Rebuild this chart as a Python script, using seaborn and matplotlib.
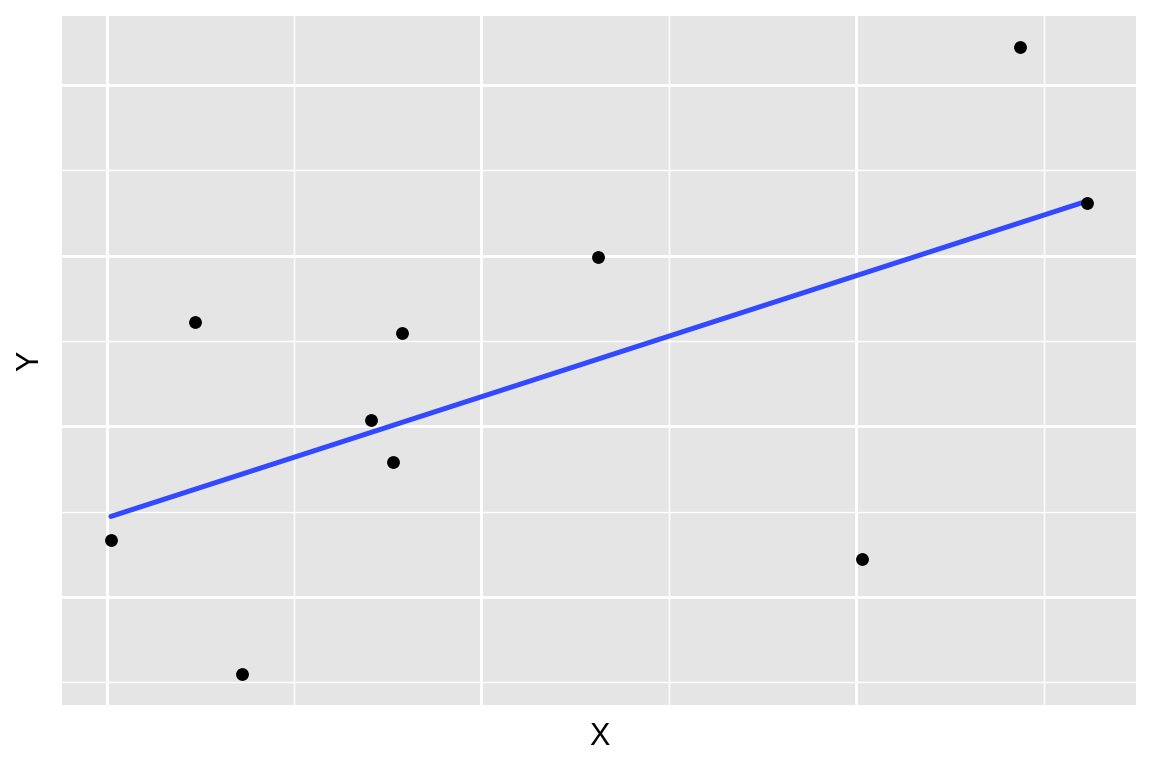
import pandas as pd
import seaborn as sns
import matplotlib.pyplot as plt
from matplotlib.ticker import MultipleLocator

# Data (unlabelled axes, arbitrary units)
x_vals = [0.11, 2.35, 3.60, 7.04, 7.65, 7.89, 13.12, 20.16, 24.37, 26.16]
y_vals = [3.33, 16.14, -4.50, 10.35, 7.90, 15.50, 19.94, 2.22, 32.22, 23.10]

df = pd.DataFrame({"X": x_vals, "Y": y_vals})

sns.set_theme(style="darkgrid")
plt.rcParams["font.family"] = ["Liberation Sans", "DejaVu Sans"]

fig = plt.figure(figsize=(11.52, 7.68), dpi=100)
ax = fig.add_axes([62 / 1152, 1 - 705 / 768, (1136 - 62) / 1152, (705 - 16) / 768])
ax.set_facecolor("#E5E5E5")

# points + linear fit without confidence band (ggplot geom_smooth(method="lm", se=FALSE) look)
sns.regplot(x="X", y="Y", data=df, ax=ax, ci=None, color="black",
            scatter_kws={"s": 85, "linewidths": 0, "alpha": 1, "zorder": 3},
            line_kws={"color": "#3349FF", "linewidth": 3.6, "zorder": 2})

ax.margins(x=0.05, y=0.05)

# major/minor grid like ggplot
ax.xaxis.set_major_locator(MultipleLocator(10))
ax.xaxis.set_minor_locator(MultipleLocator(5))
ax.yaxis.set_major_locator(MultipleLocator(10))
ax.yaxis.set_minor_locator(MultipleLocator(5))
ax.grid(which="major", color="white", linewidth=2.1)
ax.grid(which="minor", color="white", linewidth=1.0)
ax.set_axisbelow(True)
ax.tick_params(which="both", length=0, labelbottom=False, labelleft=False)
for s in ax.spines.values():
    s.set_visible(False)

ax.set_xlabel("X", fontsize=22, labelpad=12, color="black")
ax.set_ylabel("Y", fontsize=22, labelpad=12, color="black")

fig.savefig("out.png", dpi=100)
